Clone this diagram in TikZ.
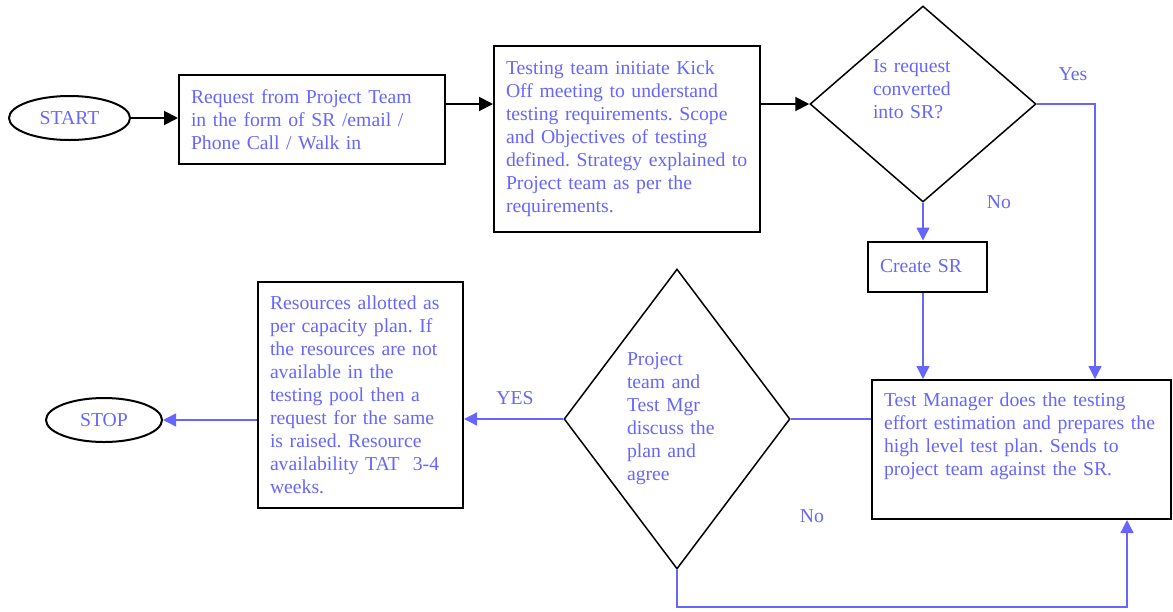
\documentclass[tikz,border=0pt]{standalone}
\usepackage{fontspec}
\setmainfont{Liberation Serif}
\usepackage{tikz}
\usepackage{xcolor}
\usetikzlibrary{shapes.geometric,arrows.meta}
\definecolor{flowblue}{RGB}{102,102,255}
\newcommand{\flowfont}{\fontsize{19.7}{23}\selectfont\frenchspacing}
\tikzset{
    flow-box/.style = {draw=black, line width=2pt, rectangle, inner xsep=12pt, inner ysep=0pt, align=left, text=flowblue, font=\flowfont},
    terminal/.style = {draw=black, line width=2pt, ellipse, inner sep=0pt, text=flowblue, font=\flowfont},
    decision/.style = {draw=black, line width=1.5pt, diamond, inner sep=0pt, align=left, text=flowblue, font=\flowfont},
    branch-label/.style = {inner sep=0pt, text=flowblue, font=\flowfont},
    black-arrow/.style = {draw=black, line width=2pt, -{Triangle[length=14pt, width=14pt]}},
    blue-arrow/.style = {draw=flowblue, line width=1.3pt, -{Triangle[length=13pt, width=13pt]}},
    blue-line/.style = {draw=flowblue, line width=1.3pt},
}

\begin{document}
\begin{tikzpicture}[x=1pt, y=-1pt]
\useasboundingbox (0,0) rectangle (1173,611);
\node[terminal, minimum width=121pt, minimum height=44pt] (start) at (69.5,118) {START};
\node[flow-box, text width=242pt, minimum height=89pt] (request) at (312,119.5) {Request from Project Team\\in the form of SR /email /\\Phone Call / Walk in};
\node[flow-box, text width=242pt, minimum height=186pt] (kickoff) at (627,139) {Testing team initiate Kick\\Off meeting to understand\\testing requirements. Scope\\and Objectives of testing\\defined. Strategy explained to\\Project team as per the\\requirements.};
\node[decision, text width=100pt, minimum width=226pt, minimum height=196pt] (convq) at (923,104) {Is request\\converted\\into SR?\\\strut};
\node[flow-box, text width=95pt, minimum height=50pt] (createsr) at (927.5,266.5) {Create SR};
\node[flow-box, text width=275pt, minimum height=139pt] (tmplan) at (1021.5,449.5) {Test Manager does the testing\\effort estimation and prepares the\\high level test plan. Sends to\\project team against the SR.\\\strut};
\node[decision, aspect=0.75, text width=100pt, minimum width=226pt, minimum height=300pt] (discuss) at (677,419) {Project\\team and\\Test Mgr\\discuss the\\plan and\\agree};
\node[flow-box, text width=181pt, minimum height=226pt] (resources) at (360.5,395) {Resources allotted as\\per capacity plan. If\\the resources are not\\available in the\\testing pool then a\\request for the same\\is raised. Resource\\availability TAT\ \ 3-4\\weeks.};
\node[terminal, minimum width=116pt, minimum height=44pt] (stop) at (104,420) {STOP};

\node[branch-label] (yes-convq) at (1073,74) {Yes};
\node[branch-label] (no-convq) at (999,202) {No};
\node[branch-label] (yes-discuss) at (515,398) {YES};
\node[branch-label] (no-discuss) at (812,516) {No};

\coordinate (yes-turn) at (1095,104);
\coordinate (no-turn) at (1127,607);

\draw[black-arrow] (start.east) -- (start.east -| request.west);
\draw[black-arrow] (request.east |- convq) -- (kickoff.west |- convq);
\draw[black-arrow] (kickoff.east |- convq) -- (convq.west);
\draw[blue-arrow] (convq.south) -- (convq.south |- createsr.north);
\draw[blue-arrow] (convq.south |- createsr.south) -- (convq.south |- tmplan.north);
\draw[blue-arrow] (convq.east) -- (yes-turn) -- (yes-turn |- tmplan.north);
\draw[blue-line] (tmplan.west |- discuss) -- (discuss.east);
\draw[blue-arrow] (discuss.west) -- (discuss.west -| resources.east);
\draw[blue-arrow] (resources.west |- stop) -- (stop.east);
\draw[blue-arrow] (discuss.south) |- (no-turn) -- (no-turn |- tmplan.south);
\end{tikzpicture}
\end{document}
